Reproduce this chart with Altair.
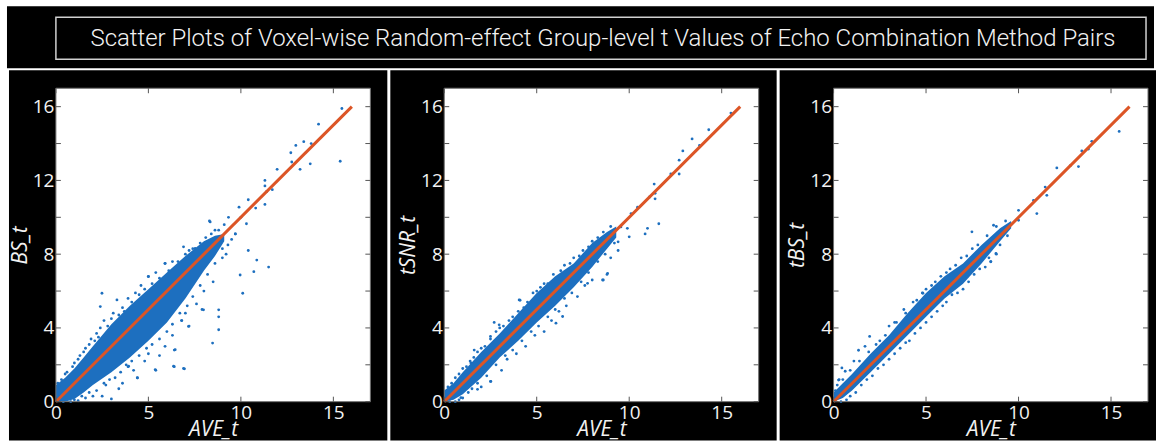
import altair as alt
import pandas as pd

TITLE = "Scatter Plots of Voxel-wise Random-effect Group-level t Values of Echo Combination Method Pairs"
X_TITLE = "AVE_t"
Y_TITLES = ["BS_t", "tSNR_t", "tBS_t"]

x_tick_labels = [0, 5, 10, 15]
y_tick_labels = [0, 4, 8, 12, 16]
x_ticks = [0, 5, 10, 15]
y_ticks = [0, 2, 4, 6, 8, 10, 12, 14, 16]
diag_x = [0, 16]
diag_y = [0, 16]

# ---- Panel 1: BS_t vs AVE_t ----
p1_band_x = [0, 0.5, 1, 1.5, 2, 3, 4, 5, 6, 7, 8, 8.6, 9.1]
p1_band_lo = [0, 0, 0.15, 0.5, 0.9, 1.6, 2.4, 3.3, 4.3, 5.6, 7.1, 7.9, 8.7]
p1_band_hi = [0.9, 1.3, 1.8, 2.4, 3.0, 4.2, 5.2, 6.1, 7.0, 7.9, 8.7, 9.0, 9.1]
p1_x = [15.46, 14.2, 12.97, 13.4, 13.8, 15.37, 12.7, 12.75, 13.2, 13.75, 11.96, 11.3, 11.3, 11.4,
        11.7, 11.3, 10.4, 10.8, 9.9, 10.0, 10.3, 8.34, 9.33, 9.7, 10.4, 10.86, 11.5, 10.7, 9.96,
        10.1, 8.8, 8.8, 8.8, 8.47, 7.98, 7.17, 6.8, 6.45, 6.95, 6.36, 5.37, 4.41, 3.93, 2.49, 2.4,
        3.3, 5.0, 5.9, 6.9, 7.53,
        0.3, 0.6, 1.0, 1.3, 1.6, 1.9, 2.2, 2.4, 2.6, 3.1, 3.6, 3.9, 4.3, 4.6, 5.0, 5.4, 5.9, 6.3,
        7.2, 8.3, 8.6,
        0.8, 1.2, 1.6, 2.0, 2.5, 3.0, 3.4, 2.7, 3.6, 3.9, 4.4, 4.2, 4.8, 5.4, 5.0, 5.6, 5.9, 6.4,
        6.4, 6.9, 6.3, 6.8, 7.2, 7.0, 7.6, 7.9, 8.0, 8.5, 9.0, 9.3, 9.5, 9.7,
        0.1, 0.2, 0.5, 0.9, 1.2, 1.5, 1.8, 2.1, 2.3, 2.8, 3.0, 3.4, 3.7, 4.1, 4.5, 4.8, 5.2, 5.6,
        6.1, 6.6, 7.0, 7.4, 7.8, 8.1, 8.4, 8.8, 9.1,
        0.4, 1.0, 1.4, 1.8, 2.2, 2.6, 2.9, 3.2, 3.5, 3.8, 4.1, 4.5, 4.9, 5.2, 5.6, 6.0, 6.3, 6.7,
        7.1, 7.4, 7.8, 8.2, 8.6, 9.0, 9.2]
p1_y = [15.9, 15.05, 13.9, 14.1, 14.0, 13.04, 13.5, 13.0, 12.6, 12.9, 12.6, 12.0, 11.7, 11.4,
        11.5, 10.7, 10.95, 10.5, 10.55, 10.0, 9.65, 9.75, 10.0, 9.1, 8.2, 7.68, 7.3, 7.05, 6.87,
        5.88, 4.98, 4.6, 3.9, 3.18, 4.98, 4.08, 4.4, 2.82, 1.78, 1.92, 1.74, 1.29, 1.92, 5.88, 5.16,
        5.52, 6.78, 7.5, 8.4, 8.31,
        1.2, 1.6, 2.1, 2.5, 2.9, 3.4, 3.7, 4.0, 4.4, 4.8, 5.1, 5.6, 5.9, 6.3, 6.8, 7.0, 7.5, 7.6,
        8.2, 9.8, 9.3,
        0.0, 0.05, 0.2, 0.3, 0.3, 0.15, 0.7, 0.9, 1.0, 1.9, 1.3, 1.7, 2.2, 1.7, 2.6, 2.5, 3.0, 1.9,
        2.8, 1.8, 3.6, 4.4, 4.1, 4.8, 5.3, 5.0, 6.0, 6.5, 7.8, 8.5, 8.8, 9.1,
        1.0, 0.8, 1.5, 1.9, 2.3, 2.7, 3.1, 3.3, 3.5, 4.1, 4.5, 4.7, 4.9, 5.4, 5.8, 6.1, 6.4, 6.7,
        7.1, 7.6, 8.0, 8.3, 8.6, 8.9, 9.1, 9.3, 9.6,
        0.0, 0.1, 0.3, 0.5, 0.6, 1.0, 1.2, 1.3, 1.6, 2.0, 2.2, 2.5, 2.9, 3.1, 3.4, 3.8, 4.2, 4.8,
        5.2, 5.7, 6.3, 6.9, 7.5, 8.3, 8.0]

# ---- Panel 2: tSNR_t vs AVE_t ----
p2_band_x = [0, 0.5, 1, 2, 3, 4, 5, 6, 7, 8, 8.8, 9.3]
p2_band_lo = [0, 0.1, 0.4, 1.3, 2.4, 3.3, 4.3, 5.2, 6.2, 7.3, 8.3, 8.9]
p2_band_hi = [0.6, 1.0, 1.6, 2.7, 3.7, 4.8, 5.9, 6.8, 7.5, 8.6, 9.2, 9.5]
p2_x = [15.5, 14.3, 13.4, 13.8, 12.9, 12.7, 12.25, 12.7, 11.35, 11.4, 11.1, 11.4, 10.45, 10.1,
        9.9, 10.86, 10.99, 11.6, 10.0, 9.4, 9.55, 8.83, 8.56, 7.75, 6.4, 6.04, 4.05, 2.97, 2.5,
        1.44, 2.52, 1.8, 0.9, 1.62,
        0.4, 0.8, 1.2, 1.6, 2.0, 2.5, 3.0, 2.7, 3.5, 4.1, 4.3, 4.8, 5.2, 5.6, 6.3, 6.8, 7.3, 7.8, 8.3,
        0.6, 1.0, 1.5, 2.0, 2.5, 3.1, 3.4, 3.9, 4.4, 4.9, 5.4, 5.8, 6.2, 6.6, 7.2, 7.6, 8.0, 8.6,
        8.8, 9.0, 9.4,
        0.2, 0.6, 1.0, 1.4, 1.8, 2.2, 2.8, 3.2, 3.7, 4.0, 4.5, 5.0, 5.4, 5.9, 6.5, 7.0, 7.5, 8.0,
        8.6, 9.0,
        0.3, 0.8, 1.3, 1.8, 2.3, 2.8, 3.3, 3.7, 4.2, 4.7, 5.1, 5.6, 6.0, 6.5, 6.9, 7.4, 7.8, 8.3,
        8.7, 9.2]
p2_y = [15.65, 14.75, 14.25, 13.9, 13.6, 13.1, 12.35, 12.35, 11.8, 11.3, 11.1, 11.0, 10.55, 10.2,
        9.4, 9.1, 9.4, 9.65, 8.94, 8.67, 9.48, 6.96, 6.6, 6.42, 4.62, 4.26, 5.52, 4.17, 3.54,
        2.1, 1.1, 0.67, 0.22, 2.8,
        1.0, 1.5, 1.9, 2.4, 2.9, 3.4, 4.0, 4.3, 4.4, 5.5, 5.1, 5.9, 6.2, 6.4, 7.1, 7.5, 7.9, 8.4, 8.9,
        0.0, 0.2, 0.7, 0.8, 1.1, 1.7, 2.3, 2.6, 3.0, 3.6, 3.8, 4.4, 4.9, 5.2, 5.7, 6.3, 6.6, 6.6,
        6.9, 7.8, 8.2,
        0.8, 1.3, 1.8, 2.2, 2.7, 3.0, 3.8, 4.1, 4.6, 4.9, 5.4, 6.0, 6.4, 6.9, 7.4, 7.8, 8.2, 8.7,
        9.2, 9.5,
        0.0, 0.1, 0.5, 1.0, 1.4, 2.0, 2.5, 2.8, 3.3, 3.8, 4.1, 4.6, 5.0, 5.6, 5.9, 6.5, 7.0, 7.6,
        8.0, 8.6]

# ---- Panel 3: tBS_t vs AVE_t ----
p3_band_x = [0, 0.5, 1, 2, 3, 4, 5, 6, 7, 8, 9, 9.6]
p3_band_lo = [0, 0.2, 0.6, 1.6, 2.6, 3.6, 4.6, 5.6, 6.4, 7.5, 8.7, 9.4]
p3_band_hi = [0.5, 1.0, 1.5, 2.6, 3.6, 4.8, 5.9, 6.8, 7.5, 8.5, 9.4, 9.8]
p3_x = [15.44, 13.96, 13.78, 13.42, 13.24, 12.8, 12.07, 11.44, 11.53, 10.81, 10.99, 10.0, 10.0,
        8.65, 7.48, 8.78, 8.5, 7.21, 4.83, 1.95, 1.35, 0.45, 0.27, 0.63,
        0.3, 0.2, 1.1, 1.7, 2.5, 3.0, 3.3, 3.8, 4.3, 4.8, 5.3, 5.8, 6.3, 6.9, 7.5,
        0.7, 1.2, 1.8, 2.4, 3.0, 3.6, 4.1, 4.7, 5.3, 5.9, 6.4, 7.0, 7.6, 8.2, 8.5, 8.8,
        0.1, 0.5, 0.9, 1.4, 1.9, 2.3, 2.8, 3.4, 3.9, 4.5, 5.0, 5.5, 6.1, 6.6, 7.2, 7.8, 8.3, 8.8,
        9.3,
        0.4, 0.9, 1.5, 2.1, 2.7, 3.3, 3.9, 4.4, 5.0, 5.6, 6.1, 6.7, 7.3, 7.9, 8.4, 9.0, 9.4]
p3_y = [14.66, 14.12, 13.7, 13.6, 12.75, 12.8, 12.68, 11.64, 11.19, 10.92, 10.2, 10.38, 9.84,
        9.57, 9.21, 8.04, 7.59, 6.78, 5.88, 3.54, 2.79, 1.83, 1.17, 1.65,
        1.2, 0.9, 2.2, 3.0, 3.3, 4.1, 4.3, 5.0, 5.4, 5.9, 6.3, 6.8, 7.2, 7.8, 8.3,
        0.1, 0.5, 1.2, 1.8, 2.3, 2.9, 3.3, 4.0, 4.6, 5.2, 5.8, 6.1, 6.9, 7.3, 7.6, 8.0,
        0.6, 1.2, 1.7, 2.2, 2.7, 3.1, 3.6, 4.3, 4.8, 5.5, 6.1, 6.5, 7.0, 7.4, 7.9, 8.5, 9.0, 9.5,
        9.8,
        0.0, 0.3, 0.9, 1.4, 2.0, 2.6, 3.2, 3.7, 4.3, 4.9, 5.4, 5.9, 6.5, 7.2, 7.8, 8.5, 9.0]

BLUE = "#1d6fbf"
ORANGE = "#dc5526"
W, H = 315, 314
LABEL_FONT = "Open Sans"


def panel(ytitle, bx, blo, bhi, px, py, left, right):
    xs = alt.Scale(domain=[0, 17], nice=False, zero=False)
    ys = alt.Scale(domain=[0, 17], nice=False, zero=False)
    xax = alt.Axis(values=x_tick_labels, title=X_TITLE, ticks=False, domain=False, grid=False,
                   labelFlush=False, zindex=1, labelPadding=2, titlePadding=-4,
                   labelFontSize=19, titleFontSize=21)
    yax = alt.Axis(values=y_tick_labels, title=ytitle, ticks=False, domain=False, grid=False,
                   zindex=1, labelPadding=2, titlePadding=2,
                   labelFontSize=19, titleFontSize=21)
    one = pd.DataFrame({"k": [0]})
    bg = alt.Chart(one).mark_rect(color="black").encode(
        x=alt.value(-left), x2=alt.value(W + right), y=alt.value(-18), y2=alt.value(H + 39))
    plotbg = alt.Chart(one).mark_rect(color="white").encode(
        x=alt.value(0), x2=alt.value(W), y=alt.value(0), y2=alt.value(H))
    band = alt.Chart(pd.DataFrame({"x": bx, "lo": blo, "hi": bhi})).mark_area(
        color=BLUE, opacity=1).encode(
        x=alt.X("x:Q", scale=xs, axis=xax),
        y=alt.Y("lo:Q", scale=ys, axis=yax),
        y2="hi:Q")
    pts = alt.Chart(pd.DataFrame({"x": px, "y": py})).mark_circle(
        color=BLUE, size=8, opacity=1).encode(
        x=alt.X("x:Q", scale=xs, axis=xax),
        y=alt.Y("y:Q", scale=ys, axis=yax))
    diag = alt.Chart(pd.DataFrame({"x": diag_x, "y": diag_y})).mark_line(
        color=ORANGE, strokeWidth=3).encode(
        x=alt.X("x:Q", scale=xs, axis=xax),
        y=alt.Y("y:Q", scale=ys, axis=yax))
    frame = alt.Chart(one).mark_rect(fill="white", fillOpacity=0, stroke="#6e6e6e",
                                     strokeWidth=1).encode(
        x=alt.value(0), x2=alt.value(W), y=alt.value(0), y2=alt.value(H))
    ydf = pd.DataFrame({"y": y_ticks})
    xdf = pd.DataFrame({"x": x_ticks})
    lt = alt.Chart(ydf).mark_rule(color="#555", strokeWidth=1).encode(
        y=alt.Y("y:Q", scale=ys, axis=yax), x=alt.value(0), x2=alt.value(5))
    rt = alt.Chart(ydf).mark_rule(color="#555", strokeWidth=1).encode(
        y=alt.Y("y:Q", scale=ys, axis=yax), x=alt.value(W - 5), x2=alt.value(W))
    tt = alt.Chart(xdf).mark_rule(color="#555", strokeWidth=1).encode(
        x=alt.X("x:Q", scale=xs, axis=xax), y=alt.value(0), y2=alt.value(5))
    bt = alt.Chart(xdf).mark_rule(color="#555", strokeWidth=1).encode(
        x=alt.X("x:Q", scale=xs, axis=xax), y=alt.value(H - 5), y2=alt.value(H))
    return alt.layer(bg, plotbg, band, pts, diag, frame, lt, rt, tt, bt).properties(
        width=W, height=H)


one = pd.DataFrame({"k": [0]})
hdr_bg = alt.Chart(one).mark_rect(color="black").encode(
    x=alt.value(-49), x2=alt.value(1100), y=alt.value(-11), y2=alt.value(51))
box = alt.Chart(one).mark_rect(fill="black", fillOpacity=0, stroke="#d0d0d0",
                               strokeWidth=1.5).encode(
    x=alt.value(0), x2=alt.value(1092), y=alt.value(0), y2=alt.value(42))
txt = alt.Chart(pd.DataFrame({"t": [TITLE]})).mark_text(
    color="#f2f2f2", font="Roboto", fontWeight=300, fontSize=24,
    align="center", baseline="middle").encode(
    x=alt.value(548), y=alt.value(22), text="t:N")
header = alt.layer(hdr_bg, box, txt).properties(width=1092, height=42)

p1 = panel(Y_TITLES[0], p1_band_x, p1_band_lo, p1_band_hi, p1_x, p1_y, 47, 17)
p2 = panel(Y_TITLES[1], p2_band_x, p2_band_lo, p2_band_hi, p2_x, p2_y, 54, 18)
p3 = panel(Y_TITLES[2], p3_band_x, p3_band_lo, p3_band_hi, p3_x, p3_y, 54, 8)

panels = alt.hconcat(p1, p2, p3, spacing=3)
chart = alt.vconcat(header, panels, spacing=2).properties(
    padding={"left": 7, "top": 6, "right": 0, "bottom": 0}
).configure(background="white").configure_view(strokeWidth=0).configure_axis(
    labelFont=LABEL_FONT, labelColor="#f2f2f2",
    titleFont=LABEL_FONT, titleFontStyle="italic",
    titleFontWeight="normal", titleColor="#f2f2f2")

chart.save("out.html", embed_options={"renderer": "svg", "actions": False})
